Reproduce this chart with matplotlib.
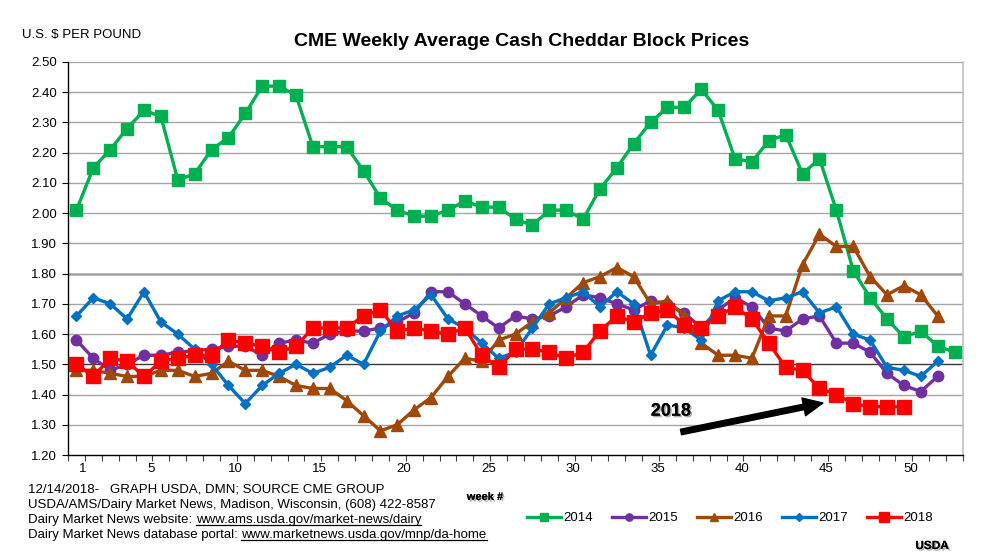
import matplotlib
matplotlib.use("Agg")
import matplotlib.pyplot as plt
import matplotlib.patheffects as pe
from matplotlib.lines import Line2D
import numpy as np

plt.rcParams['font.family'] = ['Liberation Sans', 'DejaVu Sans']

years = ["2014", "2015", "2016", "2017", "2018"]
p2014 = [2.01, 2.15, 2.21, 2.28, 2.34, 2.32, 2.11, 2.13, 2.21, 2.25,
         2.33, 2.42, 2.42, 2.39, 2.22, 2.22, 2.22, 2.14, 2.05, 2.01,
         1.99, 1.99, 2.01, 2.04, 2.02, 2.02, 1.98, 1.96, 2.01, 2.01,
         1.98, 2.08, 2.15, 2.23, 2.30, 2.35, 2.35, 2.41, 2.34, 2.18,
         2.17, 2.24, 2.26, 2.13, 2.18, 2.01, 1.81, 1.72, 1.65, 1.59,
         1.61, 1.56, 1.54]
p2015 = [1.58, 1.52, 1.48, 1.50, 1.53, 1.53, 1.54, 1.545, 1.55, 1.56,
         1.56, 1.53, 1.57, 1.58, 1.57, 1.60, 1.61, 1.61, 1.62, 1.64,
         1.67, 1.74, 1.74, 1.70, 1.66, 1.62, 1.66, 1.65, 1.66, 1.69,
         1.73, 1.72, 1.70, 1.68, 1.71, 1.70, 1.67, 1.62, 1.68, 1.72,
         1.69, 1.62, 1.61, 1.65, 1.66, 1.57, 1.57, 1.54, 1.47, 1.43,
         1.41, 1.46]
p2016 = [1.48, 1.48, 1.47, 1.46, 1.46, 1.48, 1.48, 1.46, 1.47, 1.51,
         1.48, 1.48, 1.46, 1.43, 1.42, 1.42, 1.38, 1.33, 1.28, 1.30,
         1.35, 1.39, 1.46, 1.52, 1.51, 1.58, 1.60, 1.64, 1.67, 1.72,
         1.77, 1.79, 1.82, 1.79, 1.70, 1.71, 1.66, 1.57, 1.53, 1.53,
         1.52, 1.66, 1.66, 1.83, 1.93, 1.89, 1.89, 1.79, 1.73, 1.76,
         1.73, 1.66]
p2017 = [1.66, 1.72, 1.70, 1.65, 1.74, 1.64, 1.60, 1.55, 1.50, 1.43,
         1.37, 1.43, 1.47, 1.50, 1.47, 1.49, 1.53, 1.50, 1.61, 1.66,
         1.68, 1.73, 1.65, 1.62, 1.57, 1.52, 1.54, 1.62, 1.70, 1.72,
         1.74, 1.69, 1.74, 1.70, 1.53, 1.63, 1.62, 1.58, 1.71, 1.74,
         1.74, 1.71, 1.72, 1.74, 1.67, 1.69, 1.60, 1.58, 1.49, 1.48,
         1.46, 1.51]
p2018 = [1.50, 1.46, 1.52, 1.51, 1.46, 1.51, 1.52, 1.53, 1.53, 1.58,
         1.57, 1.56, 1.54, 1.56, 1.62, 1.62, 1.62, 1.66, 1.68, 1.61,
         1.62, 1.61, 1.60, 1.62, 1.53, 1.49, 1.55, 1.55, 1.54, 1.52,
         1.54, 1.61, 1.66, 1.64, 1.67, 1.68, 1.63, 1.62, 1.66, 1.69,
         1.65, 1.57, 1.49, 1.48, 1.42, 1.40, 1.37, 1.36, 1.36, 1.36]
series = [p2014, p2015, p2016, p2017, p2018]
week_labels = [1, 5, 10, 15, 20, 25, 30, 35, 40, 45, 50]
y_ticks = [1.20, 1.30, 1.40, 1.50, 1.60, 1.70, 1.80, 1.90, 2.00, 2.10,
           2.20, 2.30, 2.40, 2.50]

colors = ["#00B050", "#7030A0", "#A0480A", "#0070C0", "#FF0000"]
markers = ["s", "o", "^", "D", "s"]
msizes = [8, 7.5, 8, 5.5, 9.5]

W, H = 983, 558
fig = plt.figure(figsize=(W / 100, H / 100), dpi=100)
ax = fig.add_axes([68 / W, 1 - 455 / H, (963 - 68) / W, (455 - 62) / H])

for vals, c, m, ms, lab in zip(series, colors, markers, msizes, years):
    wk = np.arange(1, len(vals) + 1)
    ax.plot(wk, vals, color=c, marker=m, markersize=ms, linewidth=2.4,
            label=lab, clip_on=False, zorder=3)

ax.set_xlim(0.5, 53.5)
ax.set_ylim(1.20, 2.50)
ax.set_yticks(y_ticks)
ax.set_yticklabels([f"{v:.2f}" for v in y_ticks], fontsize=9.5)

# gridlines
for v in y_ticks[1:]:
    if abs(v - 1.50) < 1e-6:
        ax.axhline(v, color="#3a3a3a", linewidth=1.0, zorder=1)
    elif abs(v - 1.80) < 1e-6:
        ax.axhline(v, color="#a0a0a0", linewidth=1.8, zorder=1)
    else:
        ax.axhline(v, color="#a6a6a6", linewidth=1.0, zorder=1)

ax.set_xticks([w + 0.4 for w in week_labels])
ax.set_xticklabels([str(w) for w in week_labels], fontsize=9.5)
ax.tick_params(axis="x", which="major", length=0, pad=6)
ax.set_xticks(np.arange(0.5, 54, 1.0), minor=True)
ax.tick_params(axis="x", which="minor", length=4, width=0.8, color="#404040",
               direction="out")
ax.tick_params(axis="y", length=4, width=0.8, direction="out", pad=4)

ax.spines["top"].set_visible(False)
ax.spines["right"].set_color("#c0c0c0")
ax.spines["right"].set_linewidth(1.2)
ax.spines["left"].set_linewidth(1.0)
ax.spines["bottom"].set_linewidth(1.0)

# 2018 annotation
shadow = [pe.withSimplePatchShadow(offset=(1.2, -1.2), shadow_rgbFace="#9a9a9a", alpha=0.8), pe.Normal()]
ax.text(36.2, 1.345, "2018", fontsize=13, fontweight="bold", ha="center",
        va="center", path_effects=shadow, zorder=5)
ax.annotate("", xy=(45.2, 1.372), xytext=(36.8, 1.276),
            arrowprops=dict(arrowstyle="simple,head_length=1.4,head_width=1.3,tail_width=0.4",
                            color="black", shrinkA=0, shrinkB=0), zorder=5)

# titles
fig.text(22 / W, 1 - 35 / H, "U.S. $ PER POUND", fontsize=9.5, ha="left",
         va="center", parse_math=False)
fig.text(522 / W, 1 - 42 / H, "CME Weekly Average Cash Cheddar Block Prices",
         fontsize=14, fontweight="bold", ha="center", va="center")

# footer
fs = 9.5
fig.text(28 / W, 1 - 490 / H, "12/14/2018-   GRAPH USDA, DMN; SOURCE CME GROUP",
         fontsize=fs, ha="left", va="center")
fig.text(28 / W, 1 - 505 / H,
         "USDA/AMS/Dairy Market News, Madison, Wisconsin, (608) 422-8587",
         fontsize=fs, ha="left", va="center")
pre1 = fig.text(28 / W, 1 - 520 / H, "Dairy Market News website: ",
                fontsize=fs, ha="left", va="center")
pre2 = fig.text(28 / W, 1 - 535 / H, "Dairy Market News database portal: ",
                fontsize=fs, ha="left", va="center")
fig.text(485 / W, 1 - 497 / H, "week #", fontsize=8, fontweight="bold",
         ha="center", va="center", path_effects=shadow)
fig.text(932 / W, 1 - 546 / H, "USDA", fontsize=8.5, fontweight="bold",
         ha="center", va="center", path_effects=shadow)

fig.canvas.draw()
r = fig.canvas.get_renderer()
for pre, url in [(pre1, "www.ams.usda.gov/market-news/dairy"),
                 (pre2, "www.marketnews.usda.gov/mnp/da-home")]:
    bb = pre.get_window_extent(r)
    x0 = bb.x1 / W
    ty = pre.get_position()[1]
    t = fig.text(x0, ty, url, fontsize=fs, ha="left", va="center")
    fig.canvas.draw()
    b2 = t.get_window_extent(r)
    uy = (b2.y0 + 1.0) / H
    fig.add_artist(Line2D([b2.x0 / W, b2.x1 / W], [uy, uy], color="black",
                          linewidth=0.9))

handles, labels = ax.get_legend_handles_labels()
leg = fig.legend(handles, labels, loc="center", bbox_to_anchor=(730 / W, 1 - 518 / H),
                 ncol=5, frameon=False, fontsize=9.5, handlelength=2.6,
                 handletextpad=0.15, columnspacing=1.45, markerscale=0.7)

fig.savefig("out.png", dpi=100)
